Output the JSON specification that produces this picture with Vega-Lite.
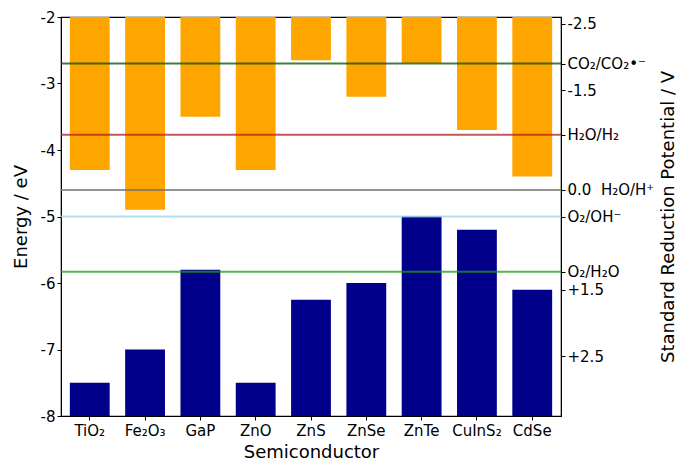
{
  "$schema": "https://vega.github.io/schema/vega-lite/v6.json",
  "autosize": "none",
  "width": 500,
  "height": 399,
  "padding": {"left": 61, "top": 17, "right": 117, "bottom": 45},
  "background": "white",
  "config": {
    "view": {"stroke": "black", "strokeWidth": 1.2},
    "font": "DejaVu Sans",
    "axis": {"grid": false, "domainColor": "black", "tickColor": "black", "labelColor": "black", "titleColor": "black", "labelFont": "DejaVu Sans", "titleFont": "DejaVu Sans", "titleFontWeight": "normal"}
  },
  "datasets": {
    "bands": [
      {"material": "TiO₂", "cb": -4.3, "vb": -7.5},
      {"material": "Fe₂O₃", "cb": -4.9, "vb": -7.0},
      {"material": "GaP", "cb": -3.5, "vb": -5.8},
      {"material": "ZnO", "cb": -4.3, "vb": -7.5},
      {"material": "ZnS", "cb": -2.65, "vb": -6.25},
      {"material": "ZnSe", "cb": -3.2, "vb": -6.0},
      {"material": "ZnTe", "cb": -2.69, "vb": -5.0},
      {"material": "CuInS₂", "cb": -3.7, "vb": -5.2},
      {"material": "CdSe", "cb": -4.4, "vb": -6.1}
    ],
    "levels": [
      {"couple": "CO2", "energy": -2.7},
      {"couple": "H2", "energy": -3.77},
      {"couple": "H+", "energy": -4.6},
      {"couple": "OH", "energy": -5.0},
      {"couple": "H2O", "energy": -5.83}
    ]
  },
  "layer": [
    {
      "data": {"name": "bands"},
      "mark": {"type": "bar", "color": "#FFA500"},
      "encoding": {
        "x": {"field": "material", "type": "nominal", "sort": null,
          "scale": {"paddingInner": 0.28, "paddingOuter": 0.16},
          "axis": {"title": "Semiconductor", "labelAngle": 0, "labelFontSize": 15, "titleFontSize": 18, "tickSize": 4, "labelPadding": 3, "titlePadding": 5}},
        "y": {"field": "cb", "type": "quantitative",
          "scale": {"domain": [-8, -2], "nice": false, "zero": false},
          "axis": {"orient": "left", "title": "Energy / eV", "values": [-8, -7, -6, -5, -4, -3, -2], "labelExpr": "'' + datum.value", "labelFontSize": 15, "titleFontSize": 18, "tickSize": 4, "titlePadding": 10}},
        "y2": {"datum": -2}
      }
    },
    {
      "data": {"name": "bands"},
      "mark": {"type": "bar", "color": "#00008B"},
      "encoding": {
        "x": {"field": "material", "type": "nominal", "sort": null},
        "y": {"field": "vb", "type": "quantitative", "axis": null},
        "y2": {"datum": -8}
      }
    },
    {
      "data": {"name": "levels"},
      "mark": {"type": "rule", "strokeWidth": 2, "opacity": 0.75},
      "encoding": {
        "y": {"field": "energy", "type": "quantitative",
          "axis": {"orient": "right", "title": "Standard Reduction Potential / V",
            "values": [-2.1, -2.7, -3.1, -3.77, -4.6, -5.0, -5.83, -6.1, -7.1],
            "labelExpr": "abs(datum.value + 2.1) < 0.01 ? '-2.5' : abs(datum.value + 2.7) < 0.01 ? 'CO₂/CO₂•⁻' : abs(datum.value + 3.1) < 0.01 ? '-1.5' : abs(datum.value + 3.77) < 0.01 ? 'H₂O/H₂' : abs(datum.value + 4.6) < 0.01 ? '0.0\u00a0\u00a0H₂O/H⁺' : abs(datum.value + 5.0) < 0.01 ? 'O₂/OH⁻' : abs(datum.value + 5.83) < 0.01 ? 'O₂/H₂O' : abs(datum.value + 6.1) < 0.01 ? '+1.5' : '+2.5'",
            "labelFontSize": 15, "titleFontSize": 18, "tickSize": 4, "titleAngle": -90, "titlePadding": 24}},
        "color": {"field": "couple", "type": "nominal", "legend": null,
          "scale": {"domain": ["CO2", "H2", "H+", "OH", "H2O"], "range": ["#005000", "#B22222", "#707070", "#9AD6EA", "#1F9A1F"]}}
      }
    }
  ],
  "resolve": {"axis": {"y": "independent"}, "scale": {"y": "shared"}}
}
